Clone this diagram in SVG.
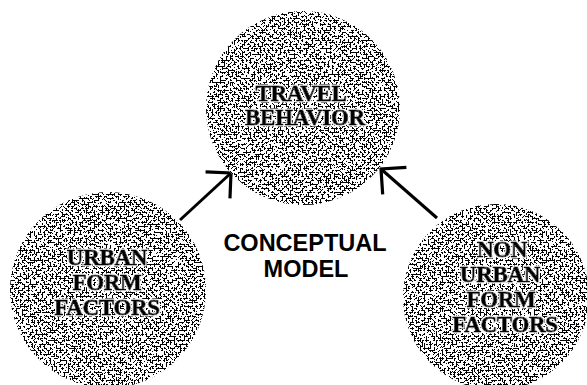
<svg xmlns="http://www.w3.org/2000/svg" width="587" height="385" viewBox="0 0 587 385">
  <style>
    .blob { fill: #ffffff; filter: url(#stipple); }
    .lbl { font-family: "Liberation Serif", "Times New Roman", serif; font-weight: bold; font-size: 23px; fill: #000; stroke: #000; stroke-width: 0.9px; stroke-linejoin: round; text-anchor: middle; letter-spacing: -0.3px; filter: url(#halo); }
    .title { font-family: "Liberation Sans", Arial, sans-serif; font-weight: bold; font-size: 23.5px; fill: #000; text-anchor: middle; }
    .conn { stroke: #000; stroke-width: 3; fill: none; marker-end: url(#openhead); }
  </style>
  <defs>
    <filter id="stipple" x="-5%" y="-5%" width="110%" height="110%" color-interpolation-filters="sRGB">
      <feTurbulence type="fractalNoise" baseFrequency="0.5" numOctaves="2" seed="7" result="noise"/>
      <feColorMatrix in="noise" type="matrix" values="0 0 0 0 0  0 0 0 0 0  0 0 0 0 0  1 0 0 0 -0.015" result="alphaNoise"/>
      <feComponentTransfer in="alphaNoise" result="dots">
        <feFuncA type="discrete" tableValues="0 1"/>
      </feComponentTransfer>
      <feComposite in="dots" in2="SourceGraphic" operator="in" result="clipped"/>
      <feMerge>
        <feMergeNode in="SourceGraphic"/>
        <feMergeNode in="clipped"/>
      </feMerge>
    </filter>
    <filter id="halo" x="-10%" y="-20%" width="120%" height="140%">
      <feMorphology in="SourceAlpha" operator="dilate" radius="1" result="fat"/>
      <feFlood flood-color="#ffffff" result="white"/>
      <feComposite in="white" in2="fat" operator="in" result="ring"/>
      <feMerge>
        <feMergeNode in="ring"/>
        <feMergeNode in="SourceGraphic"/>
      </feMerge>
    </filter>
    <marker id="openhead" markerUnits="userSpaceOnUse" viewBox="-22 -22 26 44" markerWidth="26" markerHeight="44" refX="0" refY="0" orient="auto">
      <path d="M-18,-18 L0,0 L-18,18" fill="none" stroke="#000" stroke-width="3.2" stroke-linejoin="miter"/>
    </marker>
  </defs>

  <g id="connectors">
    <line class="conn" x1="180" y1="220" x2="231" y2="173"/>
    <line class="conn" x1="437" y1="218" x2="381" y2="169"/>
  </g>

  <g id="travel-behavior">
    <circle class="blob" cx="303" cy="108" r="97"/>
    <text class="lbl" x="301" y="101">TRAVEL</text>
    <text class="lbl" x="305" y="125">BEHAVIOR</text>
  </g>

  <g id="urban-form-factors">
    <circle class="blob" cx="108" cy="290" r="98"/>
    <text class="lbl" x="107" y="265">URBAN</text>
    <text class="lbl" x="107" y="290">FORM</text>
    <text class="lbl" x="107" y="315">FACTORS</text>
  </g>

  <g id="non-urban-form-factors">
    <circle class="blob" cx="496" cy="297" r="93"/>
    <text class="lbl" x="502" y="257">NON</text>
    <text class="lbl" x="500" y="282">URBAN</text>
    <text class="lbl" x="501" y="307">FORM</text>
    <text class="lbl" x="505" y="332">FACTORS</text>
  </g>

  <g id="conceptual-model">
    <text class="title" x="305" y="251">CONCEPTUAL</text>
    <text class="title" x="306" y="277">MODEL</text>
  </g>
</svg>
